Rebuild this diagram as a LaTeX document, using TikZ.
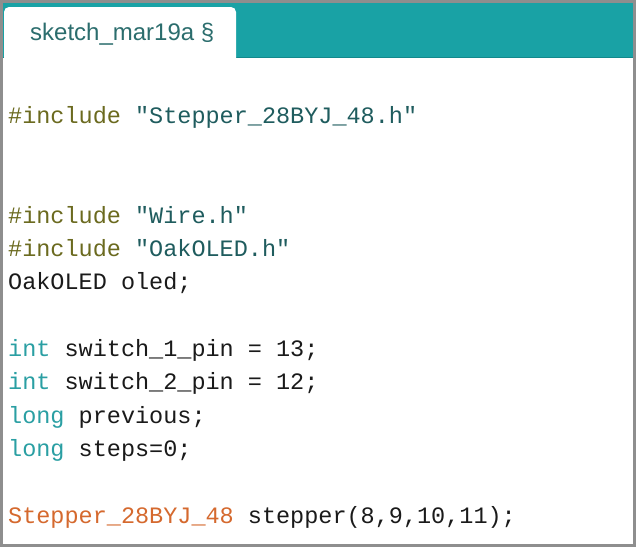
\documentclass[tikz,border=0pt]{standalone}
\usepackage{fontspec}
\setmainfont{Liberation Sans}
\setsansfont{Liberation Sans}
\setmonofont{Liberation Mono}
\newfontfamily\codefont{Liberation Mono}
\newfontfamily\tabfont{Liberation Sans}
\usepackage{tikz}
\usetikzlibrary{positioning}

\definecolor{framegray}{HTML}{8E8E8E}
\definecolor{barteal}{HTML}{19A2A5}
\definecolor{barline}{HTML}{12898C}
\definecolor{tabtext}{HTML}{2B6D6D}
\definecolor{preproc}{HTML}{6B6A1F}
\definecolor{strcol}{HTML}{1F5C5E}
\definecolor{typecol}{HTML}{2A9FA3}
\definecolor{classcol}{HTML}{D5692E}
\definecolor{plaincol}{HTML}{1A1A1A}

\newcommand{\pp}[1]{\textcolor{preproc}{#1}}
\newcommand{\str}[1]{\textcolor{strcol}{#1}}
\newcommand{\typ}[1]{\textcolor{typecol}{#1}}
\newcommand{\cls}[1]{\textcolor{classcol}{#1}}

\begin{document}
\begin{tikzpicture}[x=1pt,y=-1pt,
  code/.style={anchor=base west,inner sep=0pt,text=plaincol,
    font=\codefont\fontsize{23.5}{28}\selectfont},
  tab/.style={anchor=base west,inner sep=0pt,text=tabtext,
    font=\tabfont\fontsize{24}{28}\selectfont}]
  \useasboundingbox (0,0) rectangle (636,547);
  % window frame and editor area
  \fill[framegray] (0,0) rectangle (636,547);
  \fill[white] (3,3) rectangle (633,544);
  % header bar with the sketch tab
  \fill[barteal] (3,3) rectangle (633,58);
  \draw[barline,line width=1.2pt] (3,57.4)--(633,57.4);
  \fill[white,rounded corners=5pt] (4,64)--(4,7)--(236,7)--(236,64)--cycle;
  \node[tab] (tabname) at (30,40) {sketch\_mar19a \S};
  % source lines
  \node[code] (incStepper) at (8,123.0) {\pp{\#include} \str{"Stepper\_28BYJ\_48.h"}};
  \node[code] (incWire) at (8,223.0) {\pp{\#include} \str{"Wire.h"}};
  \node[code] (incOled) at (8,256.3) {\pp{\#include} \str{"OakOLED.h"}};
  \node[code] (oled) at (8,289.7) {OakOLED oled;};
  \node[code] (swA) at (8,356.3) {\typ{int} switch\_1\_pin = 13;};
  \node[code] (swB) at (8,389.7) {\typ{int} switch\_2\_pin = 12;};
  \node[code] (prev) at (8,423.0) {\typ{long} previous;};
  \node[code] (steps) at (8,456.3) {\typ{long} steps=0;};
  \node[code] (stepper) at (8,523.0) {\cls{Stepper\_28BYJ\_48} stepper(8,9,10,11);};
\end{tikzpicture}
\end{document}
